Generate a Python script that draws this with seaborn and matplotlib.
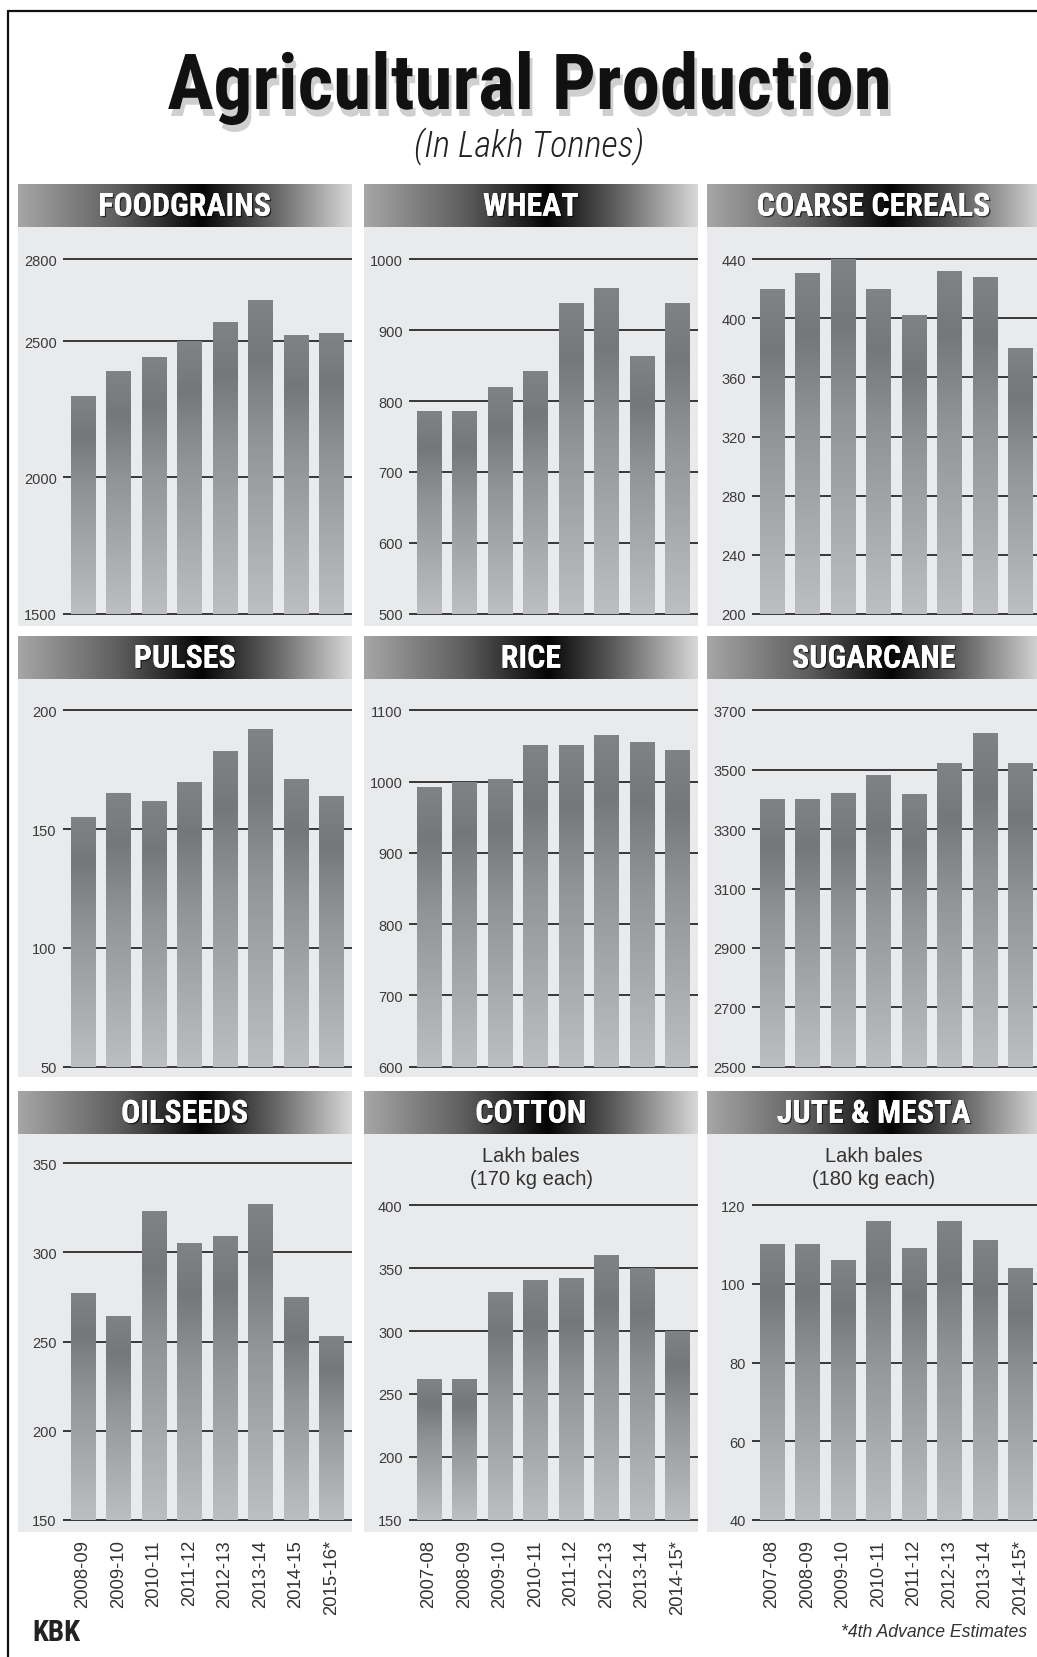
import os
import numpy as np
import matplotlib.pyplot as plt
import matplotlib.patheffects as pe
import seaborn as sns
from matplotlib import font_manager
from matplotlib.font_manager import FontProperties
from matplotlib.colors import LinearSegmentedColormap
from matplotlib.patches import Rectangle
from matplotlib.lines import Line2D

# seasons on the x axis
seasons_0816 = ["2008-09", "2009-10", "2010-11", "2011-12", "2012-13", "2013-14", "2014-15", "2015-16*"]
seasons_0715 = ["2007-08", "2008-09", "2009-10", "2010-11", "2011-12", "2012-13", "2013-14", "2014-15*"]

# values (lakh tonnes / lakh bales)
foodgrains = [2300, 2391, 2442, 2500, 2571, 2651, 2523, 2530]
wheat = [786, 786, 820, 842, 938, 960, 864, 938]
coarse_cereals = [420, 431, 440, 420, 402, 432, 428, 380]
pulses = [155, 165, 162, 170, 183, 192, 171, 164]
rice = [992, 999, 1003, 1052, 1052, 1066, 1055, 1044]
sugarcane = [3402, 3402, 3423, 3483, 3417, 3523, 3622, 3523]
oilseeds = [277, 264, 323, 305, 309, 327, 275, 253]
cotton = [262, 262, 331, 340, 342, 360, 350, 300]
jute_mesta = [110, 110, 106, 116, 109, 116, 111, 104]

ticks_foodgrains = [1500, 2000, 2500, 2800]
ticks_wheat = [500, 600, 700, 800, 900, 1000]
ticks_coarse = [200, 240, 280, 320, 360, 400, 440]
ticks_pulses = [50, 100, 150, 200]
ticks_rice = [600, 700, 800, 900, 1000, 1100]
ticks_sugarcane = [2500, 2700, 2900, 3100, 3300, 3500, 3700]
ticks_oilseeds = [150, 200, 250, 300, 350]
ticks_cotton = [150, 200, 250, 300, 350, 400]
ticks_jute = [40, 60, 80, 100, 120]

panels = [
    ("FOODGRAINS", seasons_0816, foodgrains, ticks_foodgrains, None),
    ("WHEAT", seasons_0715, wheat, ticks_wheat, None),
    ("COARSE CEREALS", seasons_0715, coarse_cereals, ticks_coarse, None),
    ("PULSES", seasons_0816, pulses, ticks_pulses, None),
    ("RICE", seasons_0715, rice, ticks_rice, None),
    ("SUGARCANE", seasons_0715, sugarcane, ticks_sugarcane, None),
    ("OILSEEDS", seasons_0816, oilseeds, ticks_oilseeds, None),
    ("COTTON", seasons_0715, cotton, ticks_cotton, "Lakh bales\n(170 kg each)"),
    ("JUTE & MESTA", seasons_0715, jute_mesta, ticks_jute, "Lakh bales\n(180 kg each)"),
]

sns.set_theme(style="white")
installed = {f.name for f in font_manager.fontManager.ttflist}
SANS = "Liberation Sans" if "Liberation Sans" in installed else "DejaVu Sans"
plt.rcParams["font.family"] = [SANS, "DejaVu Sans"]

# look for a condensed face by file name, fall back to the plain sans
font_files = {os.path.splitext(os.path.basename(f.fname))[0]: f.fname
              for f in font_manager.fontManager.ttflist}


def pick(stems, **fallback):
    for s in stems:
        if s in font_files:
            return FontProperties(fname=font_files[s])
    return FontProperties(family=SANS, **fallback)


heavy = pick(["NotoSans-CondensedBlack", "NotoSans-CondensedExtraBold", "RobotoCondensed-Black",
              "RobotoCondensed-Bold", "NotoSans-CondensedBold", "LiberationSansNarrow-Bold",
              "OpenSans-CondensedBold", "DejaVuSansCondensed-Bold"], weight="bold")
bold = pick(["NotoSans-CondensedBold", "RobotoCondensed-Bold", "LiberationSansNarrow-Bold",
             "OpenSans-CondensedBold", "DejaVuSansCondensed-Bold"], weight="bold")
light_it = pick(["NotoSans-CondensedLightItalic", "RobotoCondensed-LightItalic",
                 "NotoSans-CondensedItalic", "RobotoCondensed-Italic",
                 "LiberationSansNarrow-Italic", "OpenSans-CondensedLightItalic",
                 "DejaVuSansCondensed-Oblique"], style="italic")

W, H = 1037, 1658
fig = plt.figure(figsize=(W / 100, H / 100), dpi=100)
fig.patch.set_facecolor("white")
renderer = fig.canvas.get_renderer()


def fx(px):
    return px / W


def fy(py):
    return 1 - py / H


def add_px_axes(x0, y0, x1, y1):
    return fig.add_axes([fx(x0), fy(y1), (x1 - x0) / W, (y1 - y0) / H])


def fit_width(t, target, max_size):
    w = t.get_window_extent(renderer).width
    t.set_fontsize(min(max_size, t.get_fontsize() * target / w))


bar_cmap = LinearSegmentedColormap.from_list(
    "bar", [(0, "#bdbec1"), (0.55, "#939498"), (0.82, "#76777b"), (1, "#818286")]
)
head_cmap = LinearSegmentedColormap.from_list(
    "head", [(0, "#a6a6a6"), (0.3, "#5e5e5e"), (0.55, "#050505"), (0.75, "#5c5c5c"), (1, "#d8d8d8")]
)

# layout in pixels
col_x0 = [18, 364, 707]
head_w = 334
head_y0 = [185, 637, 1092]
head_h = 43
bg_bottom = [627, 1078, 1533]
ax_top = [259, 710, 1163]
ax_bottom = [616, 1069, 1522]

# outer frame (cropped on the right)
fig.add_artist(Line2D([fx(8), fx(8)], [fy(12), 0], transform=fig.transFigure, color="#111", lw=1.6))
fig.add_artist(Line2D([fx(8), 1], [fy(12), fy(12)], transform=fig.transFigure, color="#111", lw=1.6))

title = fig.text(fx(529), fy(110), "Agricultural Production", ha="center", va="baseline",
                 fontproperties=heavy, fontsize=57, color="#111",
                 path_effects=[pe.withSimplePatchShadow(offset=(2, -5), shadow_rgbFace="#777",
                                                        alpha=0.35)])
fit_width(title, 724, 60)
sub = fig.text(fx(529), fy(147), "(In Lakh Tonnes)", ha="center", va="center",
               fontproperties=light_it, fontsize=26, color="#222")
fit_width(sub, 230, 27)

head_texts = []
for i, (name, seasons, values, ticks, unit) in enumerate(panels):
    r, c = divmod(i, 3)
    x0 = col_x0[c]
    x1 = x0 + head_w

    # panel background
    fig.add_artist(Rectangle((fx(x0), fy(bg_bottom[r])), head_w / W,
                             (bg_bottom[r] - head_y0[r] - head_h) / H,
                             transform=fig.transFigure, facecolor="#e9eaec",
                             edgecolor="none", zorder=-1))

    # header strip
    hax = add_px_axes(x0, head_y0[r], x1, head_y0[r] + head_h)
    hax.imshow(np.linspace(0, 1, 256)[None, :], cmap=head_cmap, aspect="auto",
               extent=(0, 1, 0, 1))
    hax.set_axis_off()
    ht = hax.text(0.5, 0.47, name, ha="center", va="center", color="white",
                  fontproperties=bold, fontsize=22, transform=hax.transAxes,
                  path_effects=[pe.withSimplePatchShadow(offset=(1, -1), shadow_rgbFace="#000",
                                                         alpha=0.6), pe.Normal()])
    head_texts.append(ht)

    top = ax_top[r] + (42 if unit else 0)
    ax = add_px_axes(x0 + 45, top, x0 + 45 + 289, ax_bottom[r])
    ax.set_facecolor("none")

    sns.barplot(x=seasons, y=values, ax=ax, color="#8a8b8f", width=0.68,
                saturation=1, zorder=2)

    lo, hi = ticks[0], ticks[-1]
    for p in ax.patches:
        bx, bw, bh = p.get_x(), p.get_width(), p.get_height()
        grad = np.linspace(0, 1, 200)[:, None]
        ax.imshow(grad, cmap=bar_cmap, origin="lower", aspect="auto",
                  extent=(bx, bx + bw, lo, bh), zorder=2)
        p.set_alpha(0)

    pad = (hi - lo) * 0.004
    ax.set_ylim(lo - pad, hi + pad)
    ax.set_xlim(-0.56, 7.58)
    ax.set_yticks(ticks)
    ax.set_yticklabels([str(t) for t in ticks])
    ax.grid(axis="y", color="#2a2a2a", lw=1.3)
    ax.grid(axis="x", visible=False)
    ax.set_axisbelow(True)
    sns.despine(ax=ax, left=True, bottom=True)
    ax.tick_params(axis="y", length=0, pad=4.5, labelsize=10.5, labelcolor="#3a3a3a")
    ax.set_xlabel("")
    ax.set_ylabel("")
    if r == 2:
        ax.tick_params(axis="x", length=0, pad=13, labelsize=13.3, labelcolor="#333",
                       labelrotation=90)
    else:
        ax.set_xticklabels([])
        ax.tick_params(axis="x", length=0)

    if unit:
        fig.text(fx(x0 + head_w / 2), fy(1168), unit, ha="center", va="center",
                 fontsize=14.5, color="#333", linespacing=1.25)

# one header size for all strips, fitted so FOODGRAINS is about 180 px wide
fit_width(head_texts[0], 180, 23)
for ht in head_texts[1:]:
    ht.set_fontsize(head_texts[0].get_fontsize())

kbk = fig.text(fx(32), fy(1633), "KBK", ha="left", va="center", fontproperties=bold,
               fontsize=21, color="#222")
fit_width(kbk, 48, 22)
fig.text(fx(1027), fy(1633), "*4th Advance Estimates", ha="right", va="center",
         fontsize=12.7, style="italic", color="#333")

fig.savefig("out.png", dpi=100)
